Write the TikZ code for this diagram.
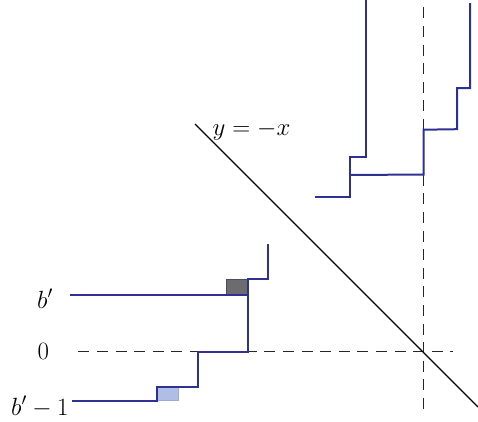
\documentclass[tikz,border=0pt]{standalone}
\usepackage{tikz}
\definecolor{pathblue}{RGB}{46,49,146}
\definecolor{lightsq}{RGB}{176,190,230}
\definecolor{darksq}{RGB}{108,108,110}
\definecolor{darkedge}{RGB}{75,75,100}
\tikzset{
  stair/.style={draw=pathblue, line width=2pt, line join=miter},
  guide/.style={draw=black!85, line width=1pt, dash pattern=on 11pt off 7.6pt},
  diag/.style={draw=black, line width=1.1pt},
  lbl/.style={inner sep=0pt, anchor=base west, font=\fontsize{24}{29}\selectfont},
}
\begin{document}
\begin{tikzpicture}[x=1pt,y=-1pt]
\useasboundingbox (0,0) rectangle (478,421);
% squares
\filldraw[fill=lightsq, draw=lightsq!85!pathblue, line width=0.8pt] (157,386.5) rectangle (178.3,400.8);
\filldraw[fill=darksq, draw=darkedge, line width=0.8pt] (226.7,279) rectangle (247.5,294.5);
% dashed guides
\draw[guide] (78.3,351.5) -- (453,351.5);
\draw[guide] (423.5,7.3) -- (423.5,410);
% diagonal
\draw[diag] (195,124) -- (478,407);
% lower staircase
\draw[stair] (72,400.5) -- (157,400.5) -- (157,386.5) -- (198,386.5) -- (198,351.5) -- (247.5,351.5) -- (247.5,279) -- (267.5,279) -- (267.5,244);
\draw[stair] (70,294.5) -- (247.5,294.5);
% upper staircase
\draw[stair] (315,197) -- (349.5,197) -- (349.5,157) -- (366,157) -- (366,0);
\draw[stair] (349.5,175) -- (423.5,174.5) -- (423.5,129.7) -- (457,129.2) -- (457,88) -- (470,88) -- (470,3);
% labels
\node[lbl] (lb) at (37,308) {$b'$};
\node[lbl] (lz) at (37.5,359) {$0$};
\node[lbl] (lbm) at (11,415) {$b'-1$};
\node[lbl] (ly) at (212.5,135) {$y=-x$};
\end{tikzpicture}
\end{document}
